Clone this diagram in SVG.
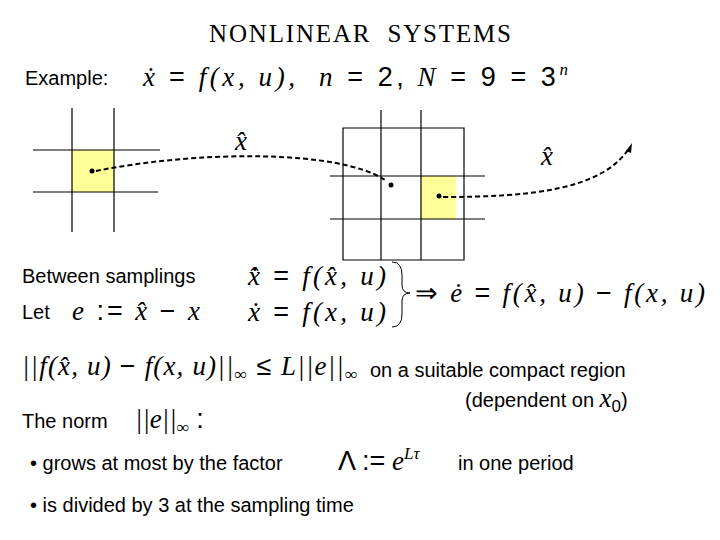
<svg xmlns="http://www.w3.org/2000/svg" width="720" height="540" viewBox="0 0 720 540">
<style>
.t{font-family:"Liberation Sans",Arial,sans-serif;font-size:20px;fill:#000}
.m{font-family:"Liberation Serif","Times New Roman",serif;font-style:italic;font-size:27px;fill:#000}
.r{font-family:"Liberation Sans",Arial,sans-serif;font-style:normal}
.g{stroke:#000;stroke-width:1.2;fill:none}
.d{stroke:#000;stroke-width:2;stroke-dasharray:5,3;fill:none}
</style>
<rect width="720" height="540" fill="#fff"/>
<text x="360" y="42" text-anchor="middle" textLength="302" style="font-family:'Liberation Serif',serif;font-size:25px;white-space:pre">NONLINEAR  SYSTEMS</text>
<text class="t" x="25" y="85">Example:</text>
<text class="m" x="143" y="86" textLength="425">ẋ <tspan class="r">=</tspan> f(x, u), <tspan dx="10">n</tspan><tspan class="r"> = 2,</tspan><tspan dx="10">N</tspan><tspan class="r"> = 9 = 3</tspan><tspan font-size="17" dy="-11">n</tspan></text>
<g id="grid1">
<rect x="72" y="150" width="42" height="42" fill="#ffff99"/>
<path class="g" d="M72 108V232M114 108V232M33 150H160M33 192H158"/>
<circle cx="92" cy="171" r="2.5"/>
</g>
<g id="grid2">
<rect x="421" y="176" width="35" height="43" fill="#ffff99"/>
<path class="g" d="M343 128H464V260H343ZM381 110V260M421 110V260M330 176H485M330 219H485"/>
<circle cx="439" cy="196" r="2.5"/>
</g>
<g id="connectors">
<path class="d" d="M96 171C200 150 340 150 385 180"/>
<circle cx="391" cy="185" r="2.5"/>
<path class="d" d="M443 197C530 197 600 190 628 150"/>
<path d="M632 143L626 151L631 153Z"/>
</g>
<text class="m" x="235" y="150">x̂</text>
<text class="m" x="541" y="165">x̂</text>
<text class="t" x="22" y="283">Between samplings</text>
<text class="t" x="22" y="319">Let</text>
<text class="m" x="72" y="320" textLength="128">e <tspan class="r">:=</tspan> x̂ <tspan class="r">−</tspan> x</text>
<text class="m" x="248" y="285" textLength="138">x̂̇ <tspan class="r">=</tspan> f(x̂, u)</text>
<text class="m" x="248" y="321" textLength="138">ẋ <tspan class="r">=</tspan> f(x, u)</text>
<path d="M392 262Q402 262 402 275V285Q402 293 410 293Q402 293 402 301V314Q402 327 392 327" fill="none" stroke="#000" stroke-width="1"/>
<text class="m" x="415" y="302" textLength="290"><tspan class="r">⇒</tspan> ė <tspan class="r">=</tspan> f(x̂, u) <tspan class="r">−</tspan> f(x, u)</text>
<text class="m" x="22" y="375" textLength="335">||f(x̂, u) <tspan class="r">−</tspan> f(x, u)||<tspan font-size="17" dy="5">∞</tspan><tspan dy="-5" class="r"> ≤ </tspan>L||e||<tspan font-size="17" dy="5">∞</tspan></text>
<text class="t" x="370" y="377">on a suitable compact region</text>
<text class="t" x="465" y="407">(dependent on <tspan class="m">x</tspan><tspan font-size="17" dy="5">0</tspan><tspan dy="-5">)</tspan></text>
<text class="t" x="22" y="428">The norm</text>
<text class="m" x="135" y="428">||e||<tspan font-size="17" dy="5">∞</tspan><tspan dy="-5" class="r"> :</tspan></text>
<text class="t" x="30" y="470">• grows at most by the factor</text>
<text class="m" x="338" y="470"><tspan class="r">Λ :=</tspan> e<tspan font-size="17" dy="-11">Lτ</tspan></text>
<text class="t" x="458" y="470">in one period</text>
<text class="t" x="30" y="512">• is divided by 3 at the sampling time</text>
</svg>
